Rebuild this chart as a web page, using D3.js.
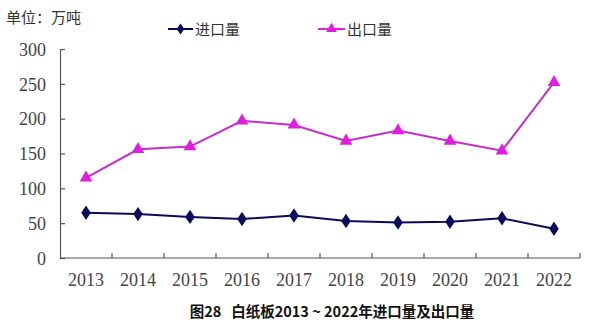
<!DOCTYPE html>
<html>
<head>
<meta charset="utf-8">
<script src="https://cdn.jsdelivr.net/npm/d3@7/dist/d3.min.js"></script>
<style>
  html, body { margin: 0; padding: 0; background: #fff; }
  svg { display: block; }
</style>
</head>
<body>
<svg id="chart" width="602" height="335"></svg>
<script>
// Years on the category axis
const years = ["2013", "2014", "2015", "2016", "2017", "2018", "2019", "2020", "2021", "2022"];
// Import volume, 10k tonnes
const importVol = [65, 63, 59, 56, 61, 53, 51, 52, 57, 42];
// Export volume, 10k tonnes
const exportVol = [115, 156, 160, 197, 191, 168, 183, 168, 154, 252];
// Y axis ticks
const yTicks = [0, 50, 100, 150, 200, 250, 300];

const svg = d3.select("#chart");
const plotLeft = 60, plotRight = 580, plotTop = 49, plotBottom = 258;
const axisColor = "#555";
const importColor = "#0b0b5c";
const exportColor = "#e11de1";
const numFont = "'Liberation Serif', 'DejaVu Serif', serif";
const cjkFont = "'Noto Sans CJK SC', sans-serif";

const x = d3.scaleBand().domain(years).range([plotLeft, plotRight]).padding(0);
const y = d3.scaleLinear().domain([0, 300]).range([plotBottom, plotTop]);

// Y axis: ticks point inward
const yAxis = svg.append("g").attr("transform", `translate(${plotLeft},0)`)
  .call(d3.axisLeft(y).tickValues(yTicks).tickSizeInner(-5).tickSizeOuter(0).tickPadding(12));
yAxis.select(".domain").attr("stroke", axisColor).attr("stroke-width", 1.2);
yAxis.selectAll(".tick line").attr("stroke", axisColor).attr("stroke-width", 1.2);
yAxis.selectAll(".tick text").attr("font-family", numFont).attr("font-size", 18)
  .attr("fill", "#444").attr("dy", "0.35em").attr("x", -14);

// X axis: tick marks at band boundaries, pointing up
const xg = svg.append("g").attr("transform", `translate(0,${plotBottom})`);
xg.append("line").attr("x1", plotLeft).attr("x2", plotRight).attr("y1", 0).attr("y2", 0)
  .attr("stroke", axisColor).attr("stroke-width", 1.2);
const bounds = years.slice(1).map(d => x(d)).concat([plotRight]);
xg.selectAll("line.tk").data(bounds).enter().append("line").attr("class", "tk")
  .attr("x1", d => d).attr("x2", d => d).attr("y1", 0).attr("y2", -5)
  .attr("stroke", axisColor).attr("stroke-width", 1.2);
xg.selectAll("text").data(years).enter().append("text")
  .attr("x", d => x(d) + x.bandwidth() / 2).attr("y", 28)
  .attr("text-anchor", "middle").attr("font-family", numFont).attr("font-size", 18)
  .attr("fill", "#444").text(d => d);

const cx = d => x(d) + x.bandwidth() / 2;
const line = d3.line().x((d, i) => cx(years[i])).y(d => y(d));

// Export series
svg.append("path").datum(exportVol).attr("d", line).attr("fill", "none")
  .attr("stroke", "#c62ccc").attr("stroke-width", 2);
const tri = d3.symbol().type(d3.symbolTriangle).size(70);
svg.selectAll("path.ex").data(exportVol).enter().append("path").attr("class", "ex")
  .attr("d", tri).attr("transform", (d, i) => `translate(${cx(years[i])},${y(d)})`)
  .attr("fill", exportColor);

// Import series
svg.append("path").datum(importVol).attr("d", line).attr("fill", "none")
  .attr("stroke", importColor).attr("stroke-width", 2);
const dia = d3.symbol().type(d3.symbolDiamond).size(60);
svg.selectAll("path.im").data(importVol).enter().append("path").attr("class", "im")
  .attr("d", dia).attr("transform", (d, i) => `translate(${cx(years[i])},${y(d)}) scale(1.15,1)`)
  .attr("fill", importColor);

// Unit label
svg.append("text").attr("x", 6).attr("y", 23).attr("font-family", cjkFont)
  .attr("font-size", 15).attr("fill", "#333").text("单位：万吨");

// Legend
const legendDia = d3.symbol().type(d3.symbolDiamond).size(36);
const legendTri = d3.symbol().type(d3.symbolTriangle).size(50);
const lg = svg.append("g");
lg.append("line").attr("x1", 168).attr("x2", 193).attr("y1", 29).attr("y2", 29)
  .attr("stroke", importColor).attr("stroke-width", 2);
lg.append("path").attr("d", legendDia).attr("transform", "translate(180.5,29) scale(1.2,1)").attr("fill", importColor);
lg.append("text").attr("x", 195).attr("y", 35).attr("font-family", cjkFont)
  .attr("font-size", 15).attr("fill", "#333").text("进口量");
lg.append("line").attr("x1", 318).attr("x2", 345).attr("y1", 29).attr("y2", 29)
  .attr("stroke", exportColor).attr("stroke-width", 2);
lg.append("path").attr("d", legendTri).attr("transform", "translate(331.5,29)").attr("fill", exportColor);
lg.append("text").attr("x", 347).attr("y", 35).attr("font-family", cjkFont)
  .attr("font-size", 15).attr("fill", "#333").text("出口量");

// Caption
svg.append("text").attr("x", 332).attr("y", 317).attr("text-anchor", "middle")
  .attr("font-family", cjkFont).attr("font-weight", "bold").attr("font-size", 14.5)
  .attr("fill", "#111").style("white-space", "pre")
  .text("图28   白纸板2013 ~ 2022年进口量及出口量");
</script>
</body>
</html>
